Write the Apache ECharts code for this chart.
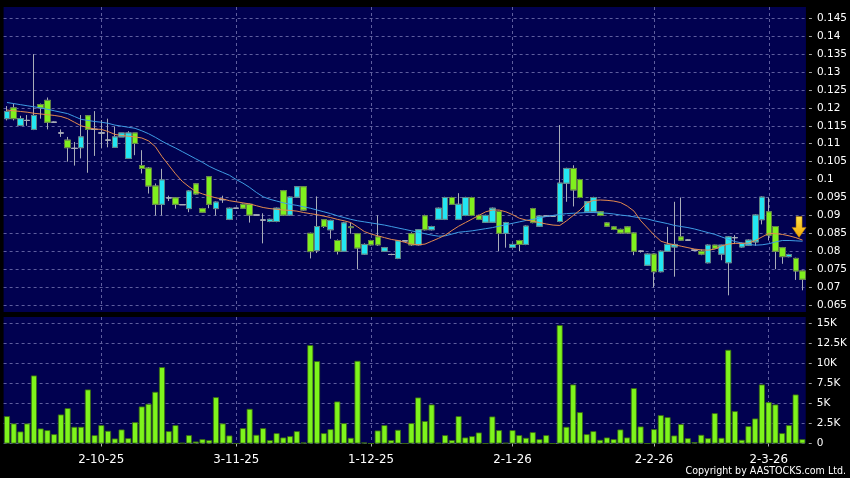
<!DOCTYPE html>
<html>
<head>
<meta charset="utf-8">
<script src="https://cdn.jsdelivr.net/npm/echarts@6.0.0/dist/echarts.min.js"></script>
<style>
  html, body { margin: 0; padding: 0; background: #000; }
  #chart { width: 850px; height: 478px; }
</style>
</head>
<body>
<div id="chart"></div>
<script>
// trading calendar: weekdays from 11-9-25, skipping HK holidays
const startDay = '2025-09-11';
const dayCount = 119;
const holidays = ['2025-10-01', '2025-10-07', '2025-10-29', '2025-12-25', '2025-12-26',
  '2026-01-01', '2026-02-17', '2026-02-18', '2026-02-19'];

// labels shown under the volume panel
const monthLabels = ['2-10-25', '3-11-25', '1-12-25', '2-1-26', '2-2-26', '2-3-26'];

const priceTicks = [0.065, 0.07, 0.075, 0.08, 0.085, 0.09, 0.095, 0.1, 0.105, 0.11,
  0.115, 0.12, 0.125, 0.13, 0.135, 0.14, 0.145];
const volTicks = [0, 2500, 5000, 7500, 10000, 12500, 15000];

// [open, close, low, high]
const candles = [
  [.1170, .1190, .1165, .1205], [.1200, .1170, .1165, .1212], [.1151, .1170, .1149, .1178],
  [.1165, .1165, .1150, .1180], [.1140, .1179, .1138, .1350], [.1209, .1200, .1170, .1212],
  [.1221, .1160, .1140, .1229], [.1160, .1160, .1158, .1162], [.1130, .1130, .1119, .1140],
  [.1110, .1089, .1050, .1119], [.1087, .1087, .1039, .1105], [.1089, .1119, .1059, .1180],
  [.1178, .1140, .1019, .1180], [.1140, .1140, .1066, .1191], [.1130, .1130, .1087, .1166],
  [.1110, .1110, .1090, .1170], [.1090, .1119, .1090, .1148], [.1119, .1130, .1119, .1130],
  [.1059, .1130, .1059, .1135], [.1130, .1101, .1068, .1130], [.1039, .1031, .1017, .1082],
  [.1032, .0982, .0961, .1035], [.0982, .0931, .0900, .0989], [.0931, .0999, .0900, .1030],
  [.0949, .0949, .0940, .0955], [.0949, .0931, .0919, .0951], [.0930, .0930, .0929, .0931],
  [.0919, .0968, .0909, .0970], [.0988, .0960, .0958, .0990], [.0919, .0909, .0907, .0921],
  [.1008, .0931, .0920, .1010], [.0919, .0937, .0900, .0939], [.0944, .0944, .0935, .0955],
  [.0889, .0920, .0887, .0922], [.0920, .0920, .0919, .0921], [.0931, .0920, .0918, .0933],
  [.0931, .0901, .0880, .0933], [.0901, .0901, .0900, .0902], [.0887, .0887, .0822, .0906],
  [.0883, .0889, .0881, .0891], [.0883, .0920, .0881, .0922], [.0969, .0901, .0899, .0971],
  [.0901, .0951, .0899, .0953], [.0951, .0980, .0949, .0982], [.0980, .0915, .0913, .0982],
  [.0850, .0799, .0780, .0852], [.0802, .0869, .0795, .0953], [.0888, .0869, .0865, .0890],
  [.0860, .0886, .0835, .0888], [.0830, .0800, .0791, .0833], [.0800, .0879, .0800, .0882],
  [.0868, .0866, .0849, .0879], [.0849, .0809, .0750, .0851], [.0792, .0819, .0790, .0822],
  [.0830, .0818, .0816, .0832], [.0840, .0818, .0815, .0900], [.0800, .0810, .0798, .0812],
  [.0791, .0791, .0789, .0793], [.0780, .0829, .0778, .0831], [.0829, .0829, .0828, .0830],
  [.0849, .0818, .0815, .0853], [.0818, .0860, .0816, .0862], [.0899, .0860, .0858, .0902],
  [.0860, .0869, .0858, .0871], [.0889, .0920, .0887, .0922], [.0889, .0950, .0887, .0952],
  [.0950, .0931, .0929, .0952], [.0889, .0931, .0887, .0962], [.0900, .0950, .0898, .0952],
  [.0950, .0900, .0898, .0952], [.0900, .0889, .0887, .0902], [.0881, .0900, .0879, .0902],
  [.0881, .0920, .0879, .0922], [.0911, .0850, .0800, .0913], [.0850, .0880, .0810, .0882],
  [.0811, .0819, .0809, .0821], [.0830, .0819, .0800, .0832], [.0819, .0870, .0817, .0872],
  [.0919, .0880, .0878, .0921], [.0870, .0898, .0868, .0900], [.0898, .0898, .0896, .0900],
  [.0898, .0898, .0897, .0899], [.0883, .0990, .0881, .1152], [.0990, .1031, .0938, .1033],
  [.1031, .0971, .0925, .1040], [.1000, .0950, .0948, .1002], [.0910, .0938, .0908, .0940],
  [.0910, .0950, .0908, .0952], [.0910, .0900, .0898, .0912], [.0879, .0870, .0868, .0881],
  [.0868, .0861, .0859, .0870], [.0861, .0851, .0849, .0863], [.0868, .0851, .0849, .0870],
  [.0851, .0800, .0789, .0853], [.0800, .0800, .0796, .0802], [.0761, .0792, .0759, .0794],
  [.0792, .0743, .0699, .0794], [.0743, .0800, .0741, .0802], [.0800, .0819, .0798, .0868],
  [.0812, .0819, .0729, .0938], [.0840, .0831, .0829, .0950], [.0831, .0831, .0829, .0833],
  [.0803, .0803, .0801, .0805], [.0800, .0792, .0789, .0805], [.0768, .0817, .0766, .0819],
  [.0817, .0808, .0806, .0818], [.0792, .0817, .0775, .0818], [.0768, .0840, .0677, .0842],
  [.0838, .0838, .0820, .0845], [.0812, .0822, .0810, .0824], [.0817, .0831, .0815, .0833],
  [.0826, .0901, .0815, .0903], [.0888, .0951, .0875, .0953], [.0910, .0845, .0830, .0950],
  [.0869, .0800, .0750, .0870], [.0810, .0785, .0765, .0812], [.0785, .0791, .0783, .0793],
  [.0780, .0745, .0720, .0782], [.0745, .0722, .0691, .0747]
];

const volumes = [
  3417, 2500, 1500, 2500, 8500, 1875, 1667, 1167, 3625, 4417,
  2083, 2083, 6750, 1042, 2292, 1583, 625, 1750, 667, 2667,
  4625, 4958, 6458, 9542, 1542, 2292, 80, 1042, 250, 542,
  417, 5792, 2500, 1000, 0, 1917, 4333, 1083, 1917, 417,
  1292, 750, 917, 1542, 125, 12292, 10292, 1292, 1792, 5250,
  2542, 708, 10333, 125, 0, 1625, 2292, 417, 1708, 0,
  2542, 5750, 2800, 4875, 80, 1042, 417, 3417, 750, 917,
  1375, 0, 3375, 1667, 80, 1667, 1042, 708, 1417, 542,
  1042, 0, 14792, 2083, 7375, 3917, 1167, 1542, 458, 750,
  542, 1750, 750, 6917, 2125, 0, 1792, 3542, 3292, 1000,
  2417, 667, 167, 1083, 667, 3792, 708, 11708, 4042, 458,
  2167, 3125, 7375, 5167, 4875, 1292, 2292, 6125, 542
];

// moving averages
const ma10 = [
  .1194, .1192, .1190, .1188, .1185, .1183, .1181, .1179, .1176, .1170,
  .1160, .1150, .1145, .1141, .1140, .1134, .1126, .1123, .1121, .1119,
  .1116, .1108, .1092, .1064, .1040, .1016, .0995, .0980, .0967, .0960,
  .0954, .0949, .0946, .0941, .0938, .0935, .0932, .0927, .0922, .0919,
  .0917, .0915, .0914, .0912, .0908, .0905, .0902, .0898, .0894, .0889,
  .0885, .0880, .0868, .0855, .0848, .0843, .0838, .0833, .0830, .0825,
  .0820, .0818, .0820, .0828, .0836, .0845, .0858, .0870, .0880, .0890,
  .0900, .0910, .0915, .0915, .0910, .0902, .0892, .0887, .0884, .0880,
  .0876, .0873, .0872, .0885, .0900, .0915, .0935, .0942, .0943, .0942,
  .0940, .0936, .0926, .0912, .0885, .0865, .0845, .0828, .0822, .0818,
  .0814, .0810, .0806, .0804, .0803, .0806, .0815, .0820, .0822, .0822,
  .0823, .0830, .0840, .0850, .0849, .0847, .0843, .0838, .0831
];
const ma20 = [
  .1215, .1212, .1209, .1206, .1203, .1200, .1196, .1192, .1188, .1184,
  .1176, .1168, .1165, .1162, .1160, .1157, .1152, .1149, .1146, .1143,
  .1136, .1128, .1118, .1107, .1097, .1088, .1078, .1068, .1058, .1048,
  .1037, .1028, .1020, .1012, .1000, .0990, .0978, .0964, .0952, .0945,
  .0940, .0935, .0931, .0928, .0924, .0920, .0915, .0910, .0905, .0899,
  .0894, .0889, .0885, .0882, .0879, .0876, .0873, .0869, .0865, .0861,
  .0857, .0853, .0849, .0845, .0842, .0843, .0848, .0853, .0855, .0857,
  .0860, .0863, .0866, .0870, .0874, .0878, .0882, .0886, .0889, .0893,
  .0897, .0900, .0903, .0905, .0906, .0907, .0908, .0908, .0907, .0906,
  .0904, .0901, .0899, .0896, .0893, .0890, .0885, .0881, .0877, .0872,
  .0869, .0866, .0862, .0857, .0852, .0847, .0840, .0833, .0827, .0823,
  .0819, .0817, .0818, .0821, .0826, .0830, .0830, .0829, .0828
];

const arrowValue = 0.0868;

const NAVY = '#010150';
const GRID_LINE = '#5e5e9e';
const CYAN = '#22e6f2';
const GREEN = '#80f01e';
const WICK = '#a9adb8';

function buildDates() {
  const out = [];
  const d = new Date(startDay + 'T00:00:00Z');
  while (out.length < dayCount) {
    const iso = d.toISOString().slice(0, 10);
    const wd = d.getUTCDay();
    if (wd !== 0 && wd !== 6 && holidays.indexOf(iso) < 0) {
      out.push(d.getUTCDate() + '-' + (d.getUTCMonth() + 1) + '-' + String(d.getUTCFullYear()).slice(2));
    }
    d.setUTCDate(d.getUTCDate() + 1);
  }
  return out;
}
const dates = buildDates();
const isMonthStart = (idx, val) => monthLabels.indexOf(val) >= 0;

// bodies without shadows, drawn over the wick layer
const bodies = candles.map(d => [d[0], d[1], Math.min(d[0], d[1]), Math.max(d[0], d[1])]);

const chart = echarts.init(document.getElementById('chart'));
chart.setOption({
  backgroundColor: '#000',
  animation: false,
  title: {
    text: 'Copyright by AASTOCKS.com Ltd.',
    right: 4,
    bottom: 1,
    padding: 0,
    textStyle: {
      color: '#fff',
      fontSize: 10.6,
      fontWeight: 'normal',
      fontFamily: '"DejaVu Sans Condensed", sans-serif'
    }
  },
  grid: [
    { left: 3.6, right: 43.1, top: 7, height: 305, show: true, backgroundColor: NAVY, borderWidth: 0 },
    { left: 3.6, right: 43.1, top: 317, height: 126.5, show: true, backgroundColor: NAVY, borderWidth: 0 }
  ],
  xAxis: [
    {
      type: 'category',
      gridIndex: 0,
      data: dates,
      axisLine: { show: false },
      axisTick: { show: false },
      axisLabel: { show: false },
      splitLine: {
        show: true,
        interval: isMonthStart,
        alignWithLabel: true,
        lineStyle: { color: GRID_LINE, type: [3, 3] }
      }
    },
    {
      type: 'category',
      gridIndex: 1,
      data: dates,
      offset: 2,
      axisLine: { show: false },
      axisTick: {
        show: true,
        interval: isMonthStart,
        alignWithLabel: true,
        length: 3,
        lineStyle: { color: '#b0b0b0' }
      },
      axisLabel: {
        interval: isMonthStart,
        color: '#fff',
        fontSize: 11.8,
        fontFamily: 'DejaVu Sans',
        margin: 8
      },
      splitLine: {
        show: true,
        interval: isMonthStart,
        alignWithLabel: true,
        lineStyle: { color: GRID_LINE, type: [3, 3] }
      }
    }
  ],
  yAxis: [
    {
      type: 'value',
      gridIndex: 0,
      position: 'right',
      offset: 3,
      min: 0.06305,
      max: 0.14815,
      axisLine: { show: false },
      axisTick: { show: true, length: 3, customValues: priceTicks, lineStyle: { color: '#a0a0a0' } },
      axisLabel: {
        customValues: priceTicks,
        color: '#fff',
        fontSize: 10.5,
        fontFamily: 'DejaVu Sans',
        margin: 8,
        formatter: v => String(+v.toFixed(3))
      },
      splitLine: { show: true, lineStyle: { color: GRID_LINE, type: [3, 3] } }
    },
    {
      type: 'value',
      gridIndex: 1,
      position: 'right',
      offset: 3,
      min: 0,
      max: 15812,
      axisLine: { show: false },
      axisTick: { show: true, length: 3, customValues: volTicks, lineStyle: { color: '#a0a0a0' } },
      axisLabel: {
        customValues: volTicks,
        color: '#fff',
        fontSize: 10.5,
        fontFamily: 'DejaVu Sans',
        margin: 8,
        formatter: v => (v === 0 ? '0' : (v / 1000) + 'K')
      },
      splitLine: { show: true, lineStyle: { color: GRID_LINE, type: [3, 3] } }
    }
  ],
  series: [
    {
      name: 'range',
      type: 'candlestick',
      xAxisIndex: 0,
      yAxisIndex: 0,
      data: candles,
      barWidth: 6,
      itemStyle: {
        color: CYAN,
        color0: GREEN,
        borderColor: WICK,
        borderColor0: WICK,
        borderColorDoji: WICK,
        borderWidth: 1
      }
    },
    {
      name: 'body',
      type: 'candlestick',
      xAxisIndex: 0,
      yAxisIndex: 0,
      data: bodies,
      barWidth: 6,
      itemStyle: {
        color: CYAN,
        color0: GREEN,
        borderColor: '#5d8282',
        borderColor0: '#5f7f40',
        borderColorDoji: WICK,
        borderWidth: 1
      }
    },
    {
      name: 'MA20',
      type: 'line',
      xAxisIndex: 0,
      yAxisIndex: 0,
      data: ma20,
      showSymbol: false,
      lineStyle: { color: '#3e9ce4', width: 1 }
    },
    {
      name: 'MA10',
      type: 'line',
      xAxisIndex: 0,
      yAxisIndex: 0,
      data: ma10,
      showSymbol: false,
      lineStyle: { color: '#e58a4e', width: 1 },
      markPoint: {
        silent: true,
        symbol: 'path://M4,0 L10,0 L10,11 L14,11 L7,21 L0,11 L4,11 Z',
        symbolSize: [14, 21],
        symbolOffset: [-3.5, 0],
        itemStyle: {
          color: new echarts.graphic.LinearGradient(0, 0, 0, 1, [
            { offset: 0, color: '#ffe34a' },
            { offset: 1, color: '#f0a400' }
          ]),
          borderColor: '#b87a00',
          borderWidth: 0.5
        },
        label: { show: false },
        data: [{ coord: [dates[dates.length - 1], arrowValue] }]
      }
    },
    {
      name: 'Volume',
      type: 'bar',
      xAxisIndex: 1,
      yAxisIndex: 1,
      data: volumes,
      barWidth: 6,
      itemStyle: { color: '#7ef41c', borderColor: '#3a6a12', borderWidth: 0.8 }
    }
  ]
});
</script>
</body>
</html>
